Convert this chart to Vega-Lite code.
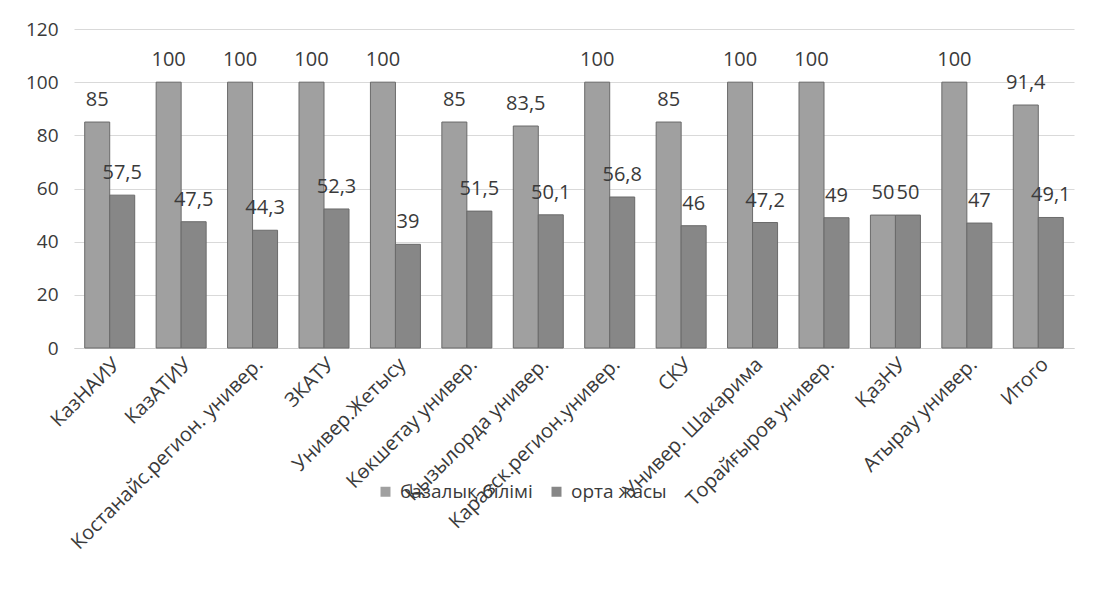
{
  "$schema": "https://vega.github.io/schema/vega-lite/v6.json",
  "width": 1000,
  "height": 319,
  "autosize": {"type": "none"},
  "padding": {"left": 74, "top": 29, "right": 31, "bottom": 244},
  "background": "white",
  "config": {
    "view": {"stroke": null},
    "font": "Open Sans",
    "locale": {"number": {"decimal": ",", "thousands": " ", "grouping": [3], "currency": ["", ""]}}
  },
  "data": {"values": [
    {"u": "КазНАИУ", "s": "базалық білімі", "v": 85},
    {"u": "КазНАИУ", "s": "орта жасы", "v": 57.5},
    {"u": "КазАТИУ", "s": "базалық білімі", "v": 100},
    {"u": "КазАТИУ", "s": "орта жасы", "v": 47.5},
    {"u": "Костанайс.регион. универ.", "s": "базалық білімі", "v": 100},
    {"u": "Костанайс.регион. универ.", "s": "орта жасы", "v": 44.3},
    {"u": "ЗКАТУ", "s": "базалық білімі", "v": 100},
    {"u": "ЗКАТУ", "s": "орта жасы", "v": 52.3},
    {"u": "Универ.Жетысу", "s": "базалық білімі", "v": 100},
    {"u": "Универ.Жетысу", "s": "орта жасы", "v": 39},
    {"u": "Көкшетау универ.", "s": "базалық білімі", "v": 85},
    {"u": "Көкшетау универ.", "s": "орта жасы", "v": 51.5},
    {"u": "Қызылорда универ.", "s": "базалық білімі", "v": 83.5},
    {"u": "Қызылорда универ.", "s": "орта жасы", "v": 50.1},
    {"u": "Каразск.регион.универ.", "s": "базалық білімі", "v": 100},
    {"u": "Каразск.регион.универ.", "s": "орта жасы", "v": 56.8},
    {"u": "СКУ", "s": "базалық білімі", "v": 85},
    {"u": "СКУ", "s": "орта жасы", "v": 46},
    {"u": "Универ. Шакарима", "s": "базалық білімі", "v": 100},
    {"u": "Универ. Шакарима", "s": "орта жасы", "v": 47.2},
    {"u": "Торайғыров универ.", "s": "базалық білімі", "v": 100},
    {"u": "Торайғыров универ.", "s": "орта жасы", "v": 49},
    {"u": "ҚазНУ", "s": "базалық білімі", "v": 50},
    {"u": "ҚазНУ", "s": "орта жасы", "v": 50},
    {"u": "Атырау универ.", "s": "базалық білімі", "v": 100},
    {"u": "Атырау универ.", "s": "орта жасы", "v": 47},
    {"u": "Итого", "s": "базалық білімі", "v": 91.4},
    {"u": "Итого", "s": "орта жасы", "v": 49.1}
  ]},
  "encoding": {
    "x": {
      "field": "u", "type": "nominal", "sort": null,
      "scale": {"paddingInner": 0.3, "paddingOuter": 0.15},
      "axis": {
        "title": null, "labelAngle": -45, "labelFontSize": 20, "labelColor": "#3a3a3a",
        "ticks": false, "domainColor": "#d0d0d0", "labelPadding": 6, "labelLimit": 400
      }
    },
    "xOffset": {"field": "s", "type": "nominal", "sort": ["базалық білімі", "орта жасы"]},
    "y": {
      "field": "v", "type": "quantitative",
      "scale": {"domain": [0, 120]},
      "axis": {
        "title": null, "values": [0, 20, 40, 60, 80, 100, 120], "labelFontSize": 19,
        "labelColor": "#3a3a3a", "domain": false, "ticks": false, "gridColor": "#d9d9d9",
        "labelPadding": 16
      }
    }
  },
  "layer": [
    {
      "mark": {"type": "bar", "stroke": "#6a6a6a", "strokeWidth": 1},
      "encoding": {
        "color": {
          "field": "s", "type": "nominal",
          "scale": {"domain": ["базалық білімі", "орта жасы"], "range": ["#a0a0a0", "#878787"]},
          "legend": {
            "title": null, "orient": "none", "direction": "horizontal",
            "legendX": 302, "legendY": 453, "labelFontSize": 19, "labelColor": "#3a3a3a",
            "symbolType": "square", "symbolSize": 100, "columnPadding": 14, "symbolStrokeWidth": 0,
            "labelOffset": 5
          }
        }
      }
    },
    {
      "mark": {"type": "text", "baseline": "bottom", "dy": -12, "fontSize": 20, "color": "#3a3a3a"},
      "encoding": {
        "text": {"field": "v", "type": "quantitative", "format": ".4~g"}
      }
    }
  ]
}
